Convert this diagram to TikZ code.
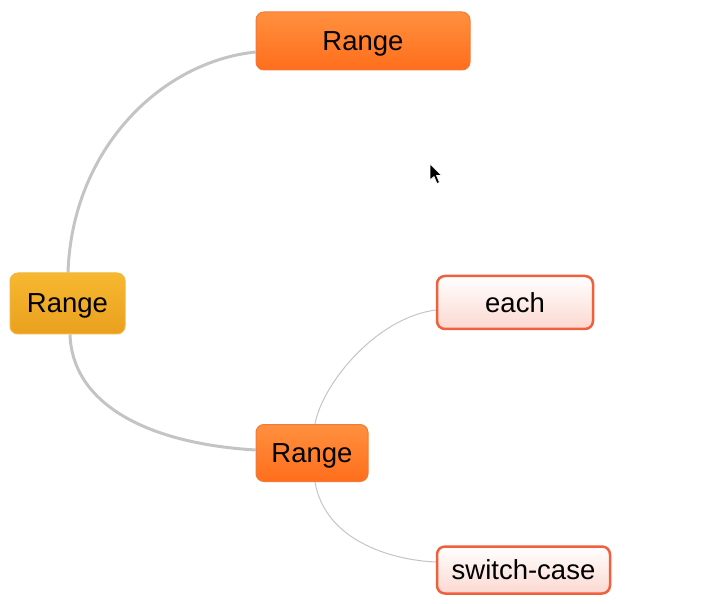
\documentclass[tikz,border=0pt]{standalone}
\usepackage{fontspec}
\setmainfont{Liberation Sans}
\usetikzlibrary{backgrounds}
\begin{document}
\begin{tikzpicture}[x=1pt,y=-1pt,
  box/.style={rounded corners=8pt, minimum height=#1, inner sep=0pt, text depth=0pt, font=\fontsize{27.5}{30}\selectfont, text=black},
  orangebox/.style={box=58pt, draw=orangeE, line width=1pt, top color=orangeT, bottom color=orangeB},
  yellowbox/.style={box=61pt, draw=yellowE, line width=1pt, top color=yellowT, bottom color=yellowB},
  leafbox/.style={box=#1, draw=leafE, line width=2.5pt, top color=white, bottom color=leafB},
  thick link/.style={draw=linkgray, line width=3pt},
  thin link/.style={draw=linkgray, line width=1pt}
]
\definecolor{orangeT}{HTML}{FF903E}
\definecolor{orangeB}{HTML}{FF6E1C}
\definecolor{orangeE}{HTML}{F07A38}
\definecolor{yellowT}{HTML}{F7B830}
\definecolor{yellowB}{HTML}{E9A01E}
\definecolor{yellowE}{HTML}{F2B63C}
\definecolor{leafE}{HTML}{F0603C}
\definecolor{leafB}{HTML}{FCD8D0}
\definecolor{linkgray}{HTML}{C4C4C4}
\useasboundingbox (0,0) rectangle (721,604);

\node[orangebox, minimum width=214pt] (top) at (363,41) {Range};
\node[yellowbox, minimum width=115pt] (left) at (67.5,303.5) {Range};
\node[orangebox, minimum width=112pt, minimum height=57pt] (mid) at (312,453) {Range};
\node[leafbox=53pt, minimum width=156pt] (each) at (515,302.5) {each};
\node[leafbox=47pt, minimum width=173pt] (sw) at (523.5,570) {switch-case};

\begin{scope}[on background layer]
\path[thick link] (top.west |- 0,52) .. controls (160,62) and (72,150) .. ([xshift=0.5pt]left.north);
\path[thick link] ([xshift=2.5pt]left.south) .. controls (72,400) and (140,443) .. (mid.west |- 0,450);
\path[thin link] ([xshift=3pt]mid.north) .. controls (322,385) and (375,318) .. (each.west |- 0,310);
\path[thin link] ([xshift=3pt]mid.south) .. controls (325,540) and (390,560) .. (sw.west |- 0,562);
\end{scope}

% mouse cursor
\filldraw[fill=black, draw=white, line width=0.6pt, line join=round]
  (430,164) -- (430,180) -- (434,176.5) -- (437,183.5) -- (439.5,182.5) -- (436.5,175.5) -- (441.5,175.5) -- cycle;
\end{tikzpicture}
\end{document}
